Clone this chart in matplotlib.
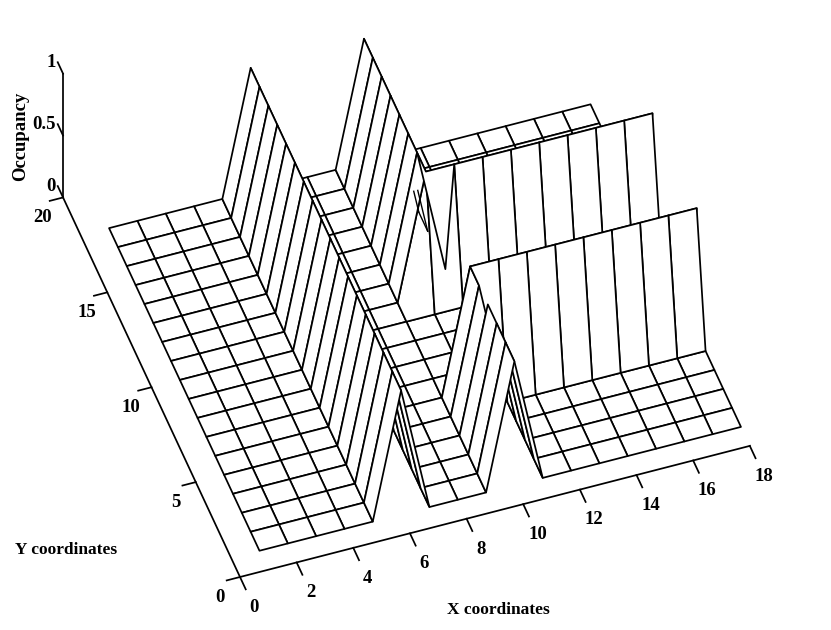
#!/usr/bin/env python3
# -*- coding: utf-8 -*-

import numpy as np
import matplotlib
matplotlib.use('Agg')
import matplotlib.pyplot as plt

from mpl_toolkits.mplot3d import proj3d

# Grid coordinates of the mesh
x_grid = list(range(1, 19))
y_grid = list(range(1, 19))

# Occupancy per y row (y=1 first), one value per x=1..18
occupancy = [
    [0, 0, 0, 0, 0, 1, 0, 0, 0, 1, 0, 0, 0, 0, 0, 0, 0, 0],
    [0, 0, 0, 0, 0, 1, 0, 0, 0, 1, 0, 0, 0, 0, 0, 0, 0, 0],
    [0, 0, 0, 0, 0, 1, 0, 0, 0, 1, 0, 0, 0, 0, 0, 0, 0, 0],
    [0, 0, 0, 0, 0, 1, 0, 0, 0, 1, 0, 0, 0, 0, 0, 0, 0, 0],
    [0, 0, 0, 0, 0, 1, 0, 0, 0, 1, 0, 0, 0, 0, 0, 0, 0, 0],
    [0, 0, 0, 0, 0, 1, 0, 0, 0, 1, 1, 1, 1, 1, 1, 1, 1, 1],
    [0, 0, 0, 0, 0, 1, 0, 0, 0, 0, 0, 0, 0, 0, 0, 0, 0, 0],
    [0, 0, 0, 0, 0, 1, 0, 0, 0, 0, 0, 0, 0, 0, 0, 0, 0, 0],
    [0, 0, 0, 0, 0, 1, 0, 0, 0, 0, 0, 0, 0, 0, 0, 0, 0, 0],
    [0, 0, 0, 0, 0, 1, 0, 0, 0, 0, 0, 0, 0, 0, 0, 0, 0, 0],
    [0, 0, 0, 0, 0, 1, 0, 0, 0, 1, 1, 1, 1, 1, 1, 1, 1, 1],
    [0, 0, 0, 0, 0, 1, 0, 0, 0, 1, 0, 0, 0, 0, 0, 0, 0, 0],
    [0, 0, 0, 0, 0, 1, 0, 0, 0, 1, 0, 0, 0, 0, 0, 0, 0, 0],
    [0, 0, 0, 0, 0, 1, 0, 0, 0, 1, 0, 0, 0, 0, 0, 0, 0, 0],
    [0, 0, 0, 0, 0, 1, 0, 0, 0, 1, 0, 0, 0, 0, 0, 0, 0, 0],
    [0, 0, 0, 0, 0, 1, 0, 0, 0, 1, 0, 0, 0, 0, 0, 0, 0, 0],
    [0, 0, 0, 0, 0, 1, 0, 0, 0, 1, 0, 0, 0, 0, 0, 0, 0, 0],
    [0, 0, 0, 0, 0, 1, 0, 0, 0, 1, 0, 0, 0, 0, 0, 0, 0, 0],
]

x_ticks = [0, 2, 4, 6, 8, 10, 12, 14, 16, 18]
y_ticks = [0, 5, 10, 15, 20]
z_ticks = [0, 0.5, 1]
z_tick_labels = ['0', '0.5', '1']

# Rows of the x=10..11 slope whose lower ends show through in the picture
show_through_y = [14, 15]
show_through_z = [0.35, 0.18]

LW = 1.25
SERIF = ['Liberation Serif', 'DejaVu Serif']
BOX = (539.7, 541.0, 185.0)

fig = plt.figure(figsize=(8.31, 6.30), dpi=100)
ax = fig.add_axes([0, -0.16, 1, 1.319], projection='3d', proj_type='ortho')
ax.set_axis_off()
ax.computed_zorder = False
ax.view_init(elev=47.96, azim=250.9)
ax.set_xlim(0, 18)
ax.set_ylim(0, 20)
ax.set_zlim(0, 1)
ax.set_xticks([])
ax.set_yticks([])
ax.set_zticks([])
ax.set_box_aspect(BOX)


def to_px(x, y, z):
    """Pixel position of a data point with the current view."""
    ax.apply_aspect()
    xs, ys, _ = proj3d.proj_transform(x, y, z, ax.get_proj())
    return ax.transData.transform((xs, ys))


def label(x, y, z, s, ha='center'):
    """Tick label at a data point, written as plain figure text."""
    px, py = to_px(x, y, z)
    fig.text(px / 831, py / 630, s, family=SERIF, weight='bold', fontsize=13.5,
             ha=ha, va='center')


# Scale and shift the box so the axis origin and length sit as in the picture
length = np.hypot(*(to_px(18, 0, 0) - to_px(0, 0, 0)))
ax.set_box_aspect(BOX, zoom=526.4 / length)
shift = np.array([240, 630 - 577]) - to_px(0, 0, 0)
ax.set_position([shift[0] / 831, -0.16 + shift[1] / 630, 1, 1.319])

# Mesh
X, Y = np.meshgrid(x_grid, y_grid)
Z = np.array(occupancy, dtype=float)
ax.plot_surface(X, Y, Z, rstride=1, cstride=1, color='white',
                edgecolor='black', linewidth=LW, shade=False, zorder=1)

# Small hatch near x=11 that the original renderer let through
for y, z in zip(show_through_y, show_through_z):
    ax.plot([11 - z, 11], [y, y], [z, 0], color='black', lw=LW * 0.8, zorder=2)
ax.plot([11, 11], [show_through_y[-1], show_through_y[0]], [0, 0],
        color='black', lw=LW * 0.8, zorder=2)

# Axes lines and ticks
ax.plot([0, 18], [0, 0], [0, 0], color='black', lw=LW, zorder=2)
ax.plot([0, 0], [0, 20], [0, 0], color='black', lw=LW, zorder=2)
ax.plot([0, 0], [20, 20], [0, 1], color='black', lw=LW, zorder=2)
for t in x_ticks:
    ax.plot([t, t], [0, -0.65], [0, 0], color='black', lw=LW, zorder=2)
    label(t, -1.6, 0, str(t))
for t in y_ticks:
    ax.plot([0, -0.47], [t, t], [0, 0], color='black', lw=LW, zorder=2)
    label(-0.93, t - 0.7, 0, str(t))
for t, lab in zip(z_ticks, z_tick_labels):
    ax.plot([0, 0], [20, 20.6], [t, t], color='black', lw=LW, zorder=2)
    label(-0.06, 20.6, t, lab, ha='right')

# Axis titles
fig.text(498 / 831, 1 - 610 / 630, 'X coordinates', family=SERIF, weight='bold',
         fontsize=12.5, ha='center', va='center')
fig.text(66 / 831, 1 - 550 / 630, 'Y coordinates', family=SERIF, weight='bold',
         fontsize=12.5, ha='center', va='center')
fig.text(21 / 831, 1 - 136 / 630, 'Occupancy', family=SERIF, weight='bold',
         fontsize=13.5, rotation=90, ha='center', va='center')

fig.savefig('out.png', dpi=100)
